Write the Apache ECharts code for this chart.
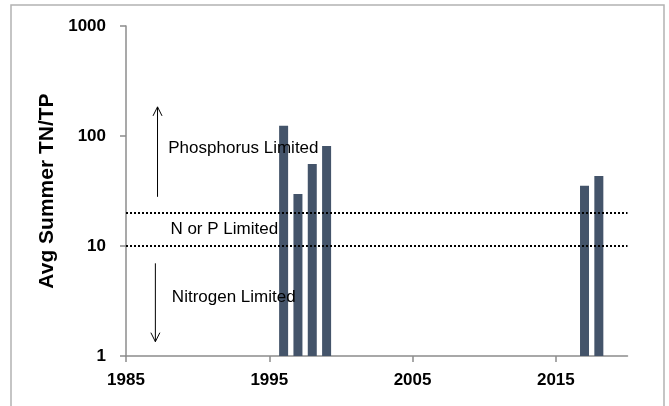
<!DOCTYPE html>
<html>
<head>
<meta charset="utf-8">
<script src="https://cdn.jsdelivr.net/npm/echarts@6/dist/echarts.min.js"></script>
<style>
html,body{margin:0;padding:0;background:#fff;}
#c{width:669px;height:406px;}
</style>
</head>
<body>
<div id="c"></div>
<script>
// ---- data ----
const years = [1996, 1997, 1998, 1999, 2017, 2018];
const ratios = [124, 29.7, 55.6, 81, 35.3, 43.3];
const thresholds = [10, 20];
const xTicks = [1985, 1995, 2005, 2015];
const yTicks = [1, 10, 100, 1000];
const annotations = [
  { text: 'Phosphorus Limited', x: 1987.95, y: 77.6 },
  { text: 'N or P Limited', x: 1988.1, y: 14.2 },
  { text: 'Nitrogen Limited', x: 1988.2, y: 3.39 }
];
const arrows = [
  { x: 1987.2, from: 28, to: 184 },
  { x: 1987.05, from: 6.96, to: 1.35 }
];

const chart = echarts.init(document.getElementById('c'), null, { renderer: 'canvas' });

const option = {
  animation: false,
  backgroundColor: '#fff',
  grid: { left: 126, right: 41.5, top: 26, bottom: 50, containLabel: false },
  xAxis: {
    type: 'value', min: 1985, max: 2020, interval: 10,
    splitLine: { show: false },
    axisLine: { lineStyle: { color: '#8c8c8c', width: 1.5 } },
    axisTick: { show: true, length: 6, lineStyle: { color: '#8c8c8c', width: 1.5 } },
    axisLabel: {
      color: '#000', fontWeight: 'bold', fontSize: 17, fontFamily: 'Liberation Sans', margin: 16,
      showMaxLabel: false,
      formatter: v => xTicks.includes(v) ? String(v) : ''
    }
  },
  yAxis: {
    type: 'log', logBase: 10, min: 1, max: 1000,
    name: 'Avg Summer TN/TP', nameLocation: 'middle', nameGap: 68,
    nameTextStyle: { color: '#000', fontWeight: 'bold', fontSize: 21, fontFamily: 'Liberation Sans' },
    splitLine: { show: false },
    axisLine: { show: true, lineStyle: { color: '#8c8c8c', width: 1.5 } },
    axisTick: { show: true, length: 6, lineStyle: { color: '#8c8c8c', width: 1.5 } },
    axisLabel: {
      color: '#000', fontWeight: 'bold', fontSize: 17, fontFamily: 'Liberation Sans', margin: 20,
      formatter: v => yTicks.includes(Math.round(v)) ? String(Math.round(v)) : ''
    }
  },
  series: [{
    type: 'bar',
    data: years.map((y, i) => [y, ratios[i]]),
    barWidth: 9,
    itemStyle: { color: '#44546a' },
    markLine: {
      silent: true,
      symbol: 'none',
      label: { show: false },
      lineStyle: { color: '#000', type: [2, 2], width: 2 },
      data: thresholds.map(t => ({ yAxis: t }))
    }
  }],
  graphic: []
};
chart.setOption(option);

// Annotations positioned via the chart's own coordinate conversion
const g = [];
g.push({
  type: 'rect', shape: { x: 11, y: 5, width: 653, height: 420 },
  style: { fill: 'none', stroke: '#b3b3b3', lineWidth: 1.5 }, z: 0, silent: true
});
arrows.forEach(a => {
  const p0 = chart.convertToPixel({ gridIndex: 0 }, [a.x, a.from]);
  const p1 = chart.convertToPixel({ gridIndex: 0 }, [a.x, a.to]);
  const dir = p1[1] < p0[1] ? -1 : 1;
  g.push({ type: 'line', shape: { x1: p0[0], y1: p0[1], x2: p1[0], y2: p1[1] },
    style: { stroke: '#000', lineWidth: 1 }, z: 10, silent: true });
  g.push({ type: 'polyline', shape: { points: [[p1[0] - 4.5, p1[1] - dir * 9], [p1[0], p1[1]], [p1[0] + 4.5, p1[1] - dir * 9]] },
    style: { stroke: '#000', lineWidth: 1, fill: 'none' }, z: 10, silent: true });
});
annotations.forEach(t => {
  const p = chart.convertToPixel({ gridIndex: 0 }, [t.x, t.y]);
  g.push({ type: 'text', x: p[0], y: p[1], z: 5, silent: true,
    style: { text: t.text, fill: '#000', font: '17px "Liberation Sans"', textAlign: 'left', textVerticalAlign: 'middle' } });
});
chart.setOption({ graphic: g });
</script>
</body>
</html>
